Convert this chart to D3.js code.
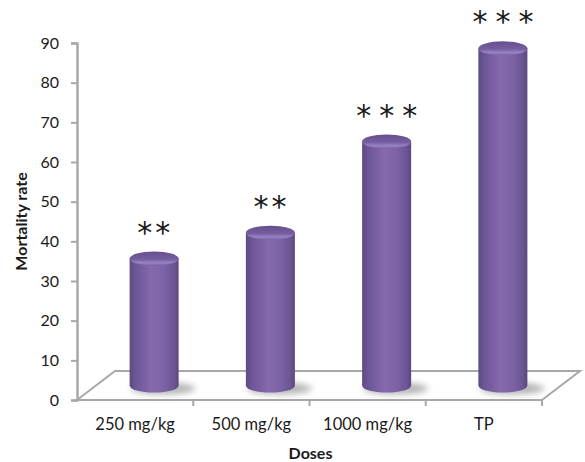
<!DOCTYPE html>
<html>
<head>
<meta charset="utf-8">
<script src="https://cdn.jsdelivr.net/npm/d3@7"></script>
<style>
  body { margin: 0; background: #fff; }
  svg { display: block; font-family: Lato, "Open Sans", sans-serif; }
</style>
</head>
<body>
<div id="chart"></div>
<script>
var doses = ["250 mg/kg", "500 mg/kg", "1000 mg/kg", "TP"];
var mortality = [32, 38.5, 61.5, 85];
var stars = ["**", "**", "***", "***"];
var yTicks = [0, 10, 20, 30, 40, 50, 60, 70, 80, 90];

var W = 585, H = 462;
var m = {top: 43, right: 43, bottom: 62, left: 77};
var depth = {dx: 38, dy: -29};

var svg = d3.select("#chart").append("svg")
    .attr("width", W)
    .attr("height", H);

var x = d3.scaleBand()
    .domain(doses)
    .range([m.left, W - m.right]);

var y = d3.scaleLinear()
    .domain([0, 90])
    .range([H - m.bottom, m.top]);

var defs = svg.append("defs");

var body = defs.append("linearGradient")
    .attr("id", "body")
    .attr("x1", "0").attr("x2", "1").attr("y1", "0").attr("y2", "0");
[[0, "#5d4a82"], [0.12, "#6c5696"], [0.45, "#8669ae"], [0.7, "#7c63a6"], [0.92, "#6a5491"], [1, "#5a467e"]]
    .forEach(function(s) {
        body.append("stop").attr("offset", s[0]).attr("stop-color", s[1]);
    });

var cap = defs.append("linearGradient")
    .attr("id", "cap")
    .attr("x1", "0").attr("x2", "0").attr("y1", "0").attr("y2", "1");
[[0, "#654f8e"], [0.55, "#745ea0"], [0.8, "#9884c2"], [1, "#7b63a7"]]
    .forEach(function(s) {
        cap.append("stop").attr("offset", s[0]).attr("stop-color", s[1]);
    });

defs.append("filter")
    .attr("id", "blur")
    .attr("x", "-50%").attr("y", "-100%").attr("width", "200%").attr("height", "300%")
    .append("feGaussianBlur")
    .attr("stdDeviation", 3);

//Floor
var y0 = y(0), xl = x.range()[0], xr = x.range()[1];
svg.append("path")
    .attr("d", "M" + xl + "," + y0 + "L" + (xl + depth.dx) + "," + (y0 + depth.dy) +
        "L" + (xr + depth.dx) + "," + (y0 + depth.dy) + "L" + xr + "," + y0)
    .attr("fill", "none")
    .attr("stroke", "#a8a8a8")
    .attr("stroke-width", 2);

//Front axis with ticks at band edges
svg.append("line")
    .attr("x1", xl).attr("x2", xr)
    .attr("y1", y0).attr("y2", y0)
    .attr("stroke", "#a8a8a8")
    .attr("stroke-width", 2);

svg.selectAll(".xtick")
    .data(doses)
    .enter().append("line")
    .attr("class", "xtick")
    .attr("x1", function(d) { return x(d) + x.bandwidth(); })
    .attr("x2", function(d) { return x(d) + x.bandwidth(); })
    .attr("y1", y0)
    .attr("y2", y0 + 6)
    .attr("stroke", "#a8a8a8")
    .attr("stroke-width", 2);

svg.selectAll(".xlabel")
    .data(doses)
    .enter().append("text")
    .attr("class", "xlabel")
    .attr("x", function(d) { return x(d) + x.bandwidth() / 2; })
    .attr("y", y0 + 30)
    .attr("text-anchor", "middle")
    .style("font-size", "16.5px")
    .style("fill", "#1a1a1a")
    .text(function(d) { return d; });

//Value axis
var yAxis = d3.axisLeft(y)
    .tickValues(yTicks)
    .tickSize(6)
    .tickPadding(12);

var ga = svg.append("g")
    .attr("transform", "translate(" + m.left + ",0)")
    .call(yAxis);
ga.select(".domain")
    .attr("stroke", "#a8a8a8")
    .attr("stroke-width", 2.5);
ga.selectAll(".tick line")
    .attr("stroke", "#a8a8a8")
    .attr("stroke-width", 2);
ga.selectAll(".tick text")
    .style("font-size", "16px")
    .style("font-family", "Lato, sans-serif")
    .style("fill", "#1a1a1a");

//Cylinders
var rx = 24.5, ry = 7;
var bars = svg.selectAll(".bar")
    .data(doses)
    .enter().append("g")
    .attr("class", "bar");

function barX(d) { return x(d) + x.bandwidth() / 2 + depth.dx / 2; }
function barBase() { return y(0) + depth.dy / 2; }
function barTop(i) { return y(mortality[i]) + depth.dy / 2; }

bars.append("ellipse")
    .attr("cx", function(d) { return barX(d) + 9; })
    .attr("cy", barBase() + 3)
    .attr("rx", rx + 8)
    .attr("ry", 6)
    .attr("fill", "#777")
    .attr("opacity", 0.55)
    .attr("filter", "url(#blur)");

bars.append("path")
    .attr("d", function(d, i) {
        var c = barX(d), t = barTop(i), b = barBase();
        return "M" + (c - rx) + "," + t + "L" + (c - rx) + "," + b +
            "A" + rx + "," + ry + " 0 0 0 " + (c + rx) + "," + b +
            "L" + (c + rx) + "," + t + "Z";
    })
    .attr("fill", "url(#body)");

bars.append("ellipse")
    .attr("cx", function(d) { return barX(d); })
    .attr("cy", function(d, i) { return barTop(i); })
    .attr("rx", rx)
    .attr("ry", ry)
    .attr("fill", "url(#cap)");

//Significance stars
bars.append("text")
    .attr("x", function(d, i) { return barX(d) + (stars[i].length > 2 ? 4 : 1); })
    .attr("y", function(d, i) { return barTop(i) - 16; })
    .attr("text-anchor", "middle")
    .style("font-family", "'DejaVu Sans', sans-serif")
    .style("font-size", "30px")
    .style("letter-spacing", function(d, i) { return stars[i].length > 2 ? "8px" : "3px"; })
    .style("fill", "#1a1a1a")
    .text(function(d, i) { return stars[i]; });

//Axis titles
svg.append("text")
    .attr("x", (xl + xr) / 2 + 1)
    .attr("y", 459)
    .attr("text-anchor", "middle")
    .style("font-size", "16px")
    .style("font-weight", "bold")
    .style("fill", "#1a1a1a")
    .text("Doses");

svg.append("text")
    .attr("transform", "translate(27," + ((y(0) + y(90)) / 2) + ") rotate(-90)")
    .attr("text-anchor", "middle")
    .style("font-size", "16px")
    .style("font-weight", "bold")
    .style("fill", "#1a1a1a")
    .text("Mortality rate");
</script>
</body>
</html>
